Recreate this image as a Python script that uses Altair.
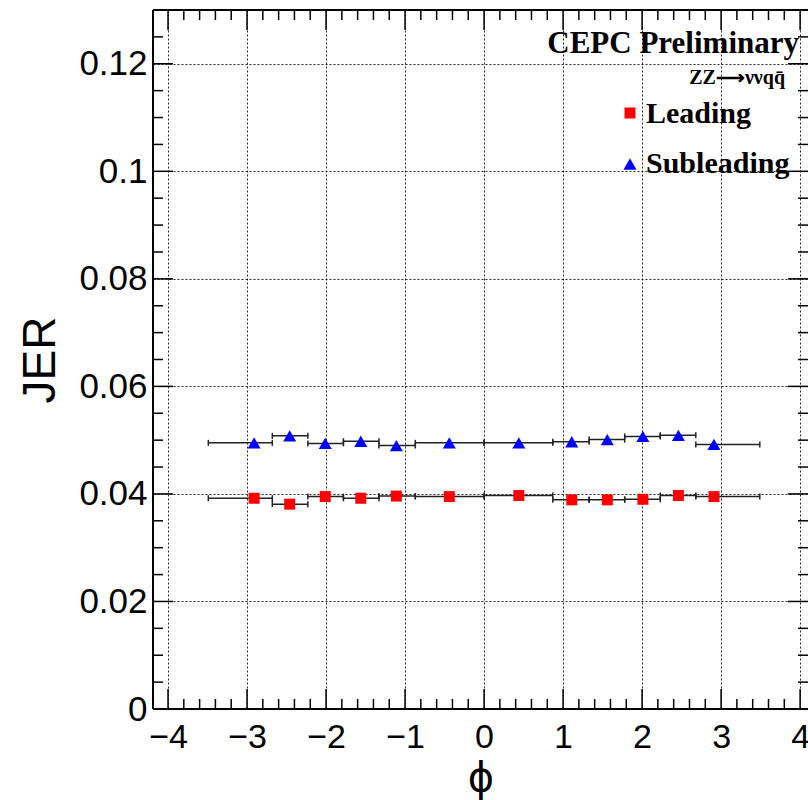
import altair as alt
import pandas as pd

# ---- data ----
phi = [-2.91, -2.46, -2.01, -1.56, -1.11, -0.44, 0.44, 1.11, 1.56, 2.01, 2.46, 2.91]
bin_lo = [-3.49, -2.68, -2.23, -1.78, -1.33, -0.87, 0.0, 0.87, 1.33, 1.78, 2.23, 2.68]
bin_hi = [-2.68, -2.23, -1.78, -1.33, -0.87, 0.0, 0.87, 1.33, 1.78, 2.23, 2.68, 3.49]
leading = [0.0392, 0.0381, 0.0395, 0.0392, 0.0396, 0.0395, 0.0397, 0.0389, 0.0389, 0.0390, 0.0397, 0.0395]
subleading = [0.0495, 0.0508, 0.0494, 0.0498, 0.0490, 0.0495, 0.0495, 0.0497, 0.0501, 0.0507, 0.0509, 0.0492]

series_names = ["Leading", "Subleading"]
x_major = [-4, -3, -2, -1, 0, 1, 2, 3, 4]
x_minor = [-3.8, -3.6, -3.4, -3.2, -2.8, -2.6, -2.4, -2.2, -1.8, -1.6, -1.4, -1.2,
           -0.8, -0.6, -0.4, -0.2, 0.2, 0.4, 0.6, 0.8, 1.2, 1.4, 1.6, 1.8,
           2.2, 2.4, 2.6, 2.8, 3.2, 3.4, 3.6, 3.8]
y_major = [0, 0.02, 0.04, 0.06, 0.08, 0.1, 0.12]
y_minor = [0.005, 0.01, 0.015, 0.025, 0.03, 0.035, 0.045, 0.05, 0.055, 0.065, 0.07, 0.075,
           0.085, 0.09, 0.095, 0.105, 0.11, 0.115, 0.125]

W, H = 655, 699
XDOM = [-4.19, 4.1]
YDOM = [0, 0.13]

rows = []
for i in range(len(phi)):
    rows.append({"phi": phi[i], "lo": bin_lo[i], "hi": bin_hi[i], "jer": leading[i], "series": series_names[0]})
for i in range(len(phi)):
    rows.append({"phi": phi[i], "lo": bin_lo[i], "hi": bin_hi[i], "jer": subleading[i], "series": series_names[1]})
df = pd.DataFrame(rows)

xs = alt.Scale(domain=XDOM, nice=False, zero=False)
ys = alt.Scale(domain=YDOM, nice=False, zero=False)

SANS = "Liberation Sans"
SERIF = "Liberation Serif"

# axes layer (labels, grid, titles)
axes = alt.Chart(df).mark_point(opacity=0).encode(
    x=alt.X("phi:Q", scale=xs, title="ϕ",
            axis=alt.Axis(values=x_major, format="d", ticks=False, domain=False, grid=True,
                          gridDash=[2, 2], gridColor="#000000", gridWidth=1, gridOpacity=0.85,
                          labelFont=SANS, labelFontSize=34, labelColor="#000000", labelPadding=11,
                          labelFlush=False,
                          titleFont="DejaVu Sans", titleFontSize=40, titleFontWeight="normal",
                          titleColor="#000000", titlePadding=4)),
    y=alt.Y("jer:Q", scale=ys, title="JER",
            axis=alt.Axis(values=y_major, format="~g", ticks=False, domain=False, grid=True,
                          gridDash=[2, 2], gridColor="#000000", gridWidth=1, gridOpacity=0.85,
                          labelFont=SANS, labelFontSize=35, labelColor="#000000", labelPadding=6,
                          labelFlush=False,
                          titleFont=SANS, titleFontSize=46, titleFontWeight="normal",
                          titleColor="#000000", titlePadding=14)),
)

# tick marks drawn inward
def xticks(vals, length):
    d = pd.DataFrame({"v": vals})
    bottom = alt.Chart(d).mark_rule(color="#000000", strokeWidth=1.5).encode(
        x=alt.X("v:Q", scale=xs), y=alt.value(H), y2=alt.value(H - length))
    top = alt.Chart(d).mark_rule(color="#000000", strokeWidth=1.5).encode(
        x=alt.X("v:Q", scale=xs), y=alt.value(0), y2=alt.value(length))
    return [bottom, top]

def yticks(vals, length):
    d = pd.DataFrame({"v": vals})
    left = alt.Chart(d).mark_rule(color="#000000", strokeWidth=1.5).encode(
        y=alt.Y("v:Q", scale=ys), x=alt.value(0), x2=alt.value(length))
    right = alt.Chart(d).mark_rule(color="#000000", strokeWidth=1.5).encode(
        y=alt.Y("v:Q", scale=ys), x=alt.value(W), x2=alt.value(W - length))
    return [left, right]

tick_layers = xticks(x_major, 20) + xticks(x_minor, 10) + yticks(y_major, 20) + yticks(y_minor, 10)

# frame (left, top, bottom)
frame_d = pd.DataFrame({"k": [0]})
frame = [
    alt.Chart(frame_d).mark_rule(color="#000000", strokeWidth=2).encode(
        x=alt.value(0), y=alt.value(0), y2=alt.value(H)),
    alt.Chart(frame_d).mark_rule(color="#000000", strokeWidth=2).encode(
        x=alt.value(0), x2=alt.value(W + 5), y=alt.value(0)),
    alt.Chart(frame_d).mark_rule(color="#000000", strokeWidth=2).encode(
        x=alt.value(0), x2=alt.value(W + 5), y=alt.value(H)),
]

# horizontal error bars (bin widths)
ebar = alt.Chart(df).mark_rule(color="#222222", strokeWidth=1.5).encode(
    x=alt.X("lo:Q", scale=xs), x2="hi:Q", y=alt.Y("jer:Q", scale=ys))
cap_lo = alt.Chart(df).mark_rule(color="#222222", strokeWidth=1.5, yOffset=-3, y2Offset=3).encode(
    x=alt.X("lo:Q", scale=xs), y=alt.Y("jer:Q", scale=ys), y2="jer:Q")
cap_hi = alt.Chart(df).mark_rule(color="#222222", strokeWidth=1.5, yOffset=-3, y2Offset=3).encode(
    x=alt.X("hi:Q", scale=xs), y=alt.Y("jer:Q", scale=ys), y2="jer:Q")

color_scale = alt.Scale(domain=series_names, range=["#ff0000", "#0000ff"])
shape_scale = alt.Scale(domain=series_names, range=["square", "triangle-up"])

pts = alt.Chart(df).mark_point(filled=True, opacity=1, strokeWidth=0).encode(
    x=alt.X("phi:Q", scale=xs),
    y=alt.Y("jer:Q", scale=ys),
    color=alt.Color("series:N", scale=color_scale, legend=None),
    shape=alt.Shape("series:N", scale=shape_scale, legend=None),
    size=alt.Size("series:N", scale=alt.Scale(domain=series_names, range=[121, 170]), legend=None),
)

# text / legend
def txt(s, x, y, size, align="left", weight="bold", font=SERIF):
    return alt.Chart(pd.DataFrame({"t": [s]})).mark_text(
        font=font, fontSize=size, fontWeight=weight, align=align, baseline="alphabetic",
        color="#000000").encode(text="t:N", x=alt.value(x), y=alt.value(y))

leg_d = pd.DataFrame({"series": series_names, "ly": [103, 154]})
leg_pts = alt.Chart(leg_d).mark_point(filled=True, opacity=1, strokeWidth=0).encode(
    x=alt.value(477), y=alt.Y("ly:Q", scale=None),
    color=alt.Color("series:N", scale=color_scale, legend=None),
    shape=alt.Shape("series:N", scale=shape_scale, legend=None),
    size=alt.Size("series:N", scale=alt.Scale(domain=series_names, range=[121, 170]), legend=None),
)

texts = [
    txt("CEPC Preliminary", 646, 43, 31, align="right"),
    txt("ZZ\u27f6\u03bd\u03bdqq\u0304", 632, 74, 20, align="right"),
    txt(series_names[0], 493, 113, 30),
    txt(series_names[1], 493, 163, 30),
]

chart = alt.layer(axes, *tick_layers, ebar, cap_lo, cap_hi, pts, *frame, leg_pts, *texts).properties(
    width=W, height=H,
    autosize=alt.AutoSizeParams(type="none"),
    padding={"left": 153, "top": 10, "right": 0, "bottom": 91},
).configure_view(stroke=None).configure(background="#ffffff")

chart.save("out.html", embed_options={"renderer": "svg", "actions": False})
